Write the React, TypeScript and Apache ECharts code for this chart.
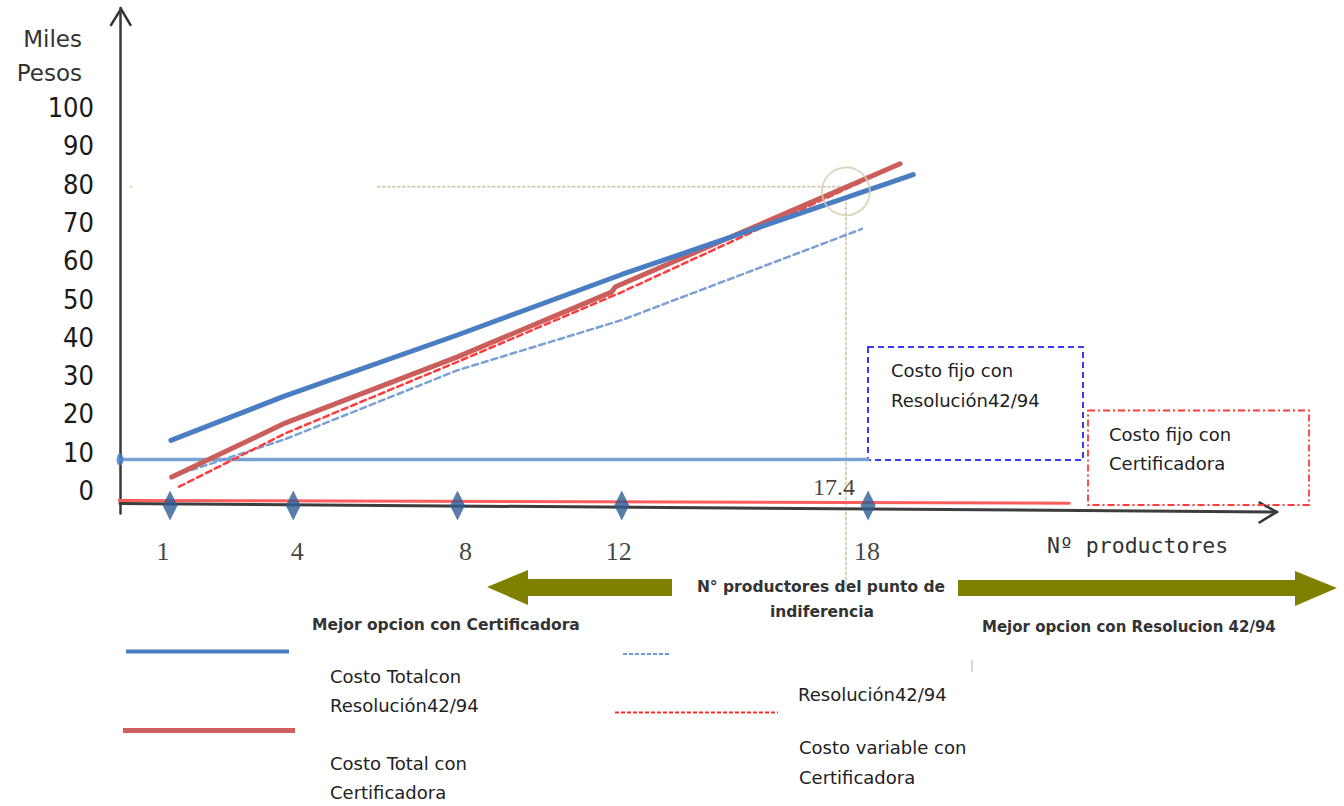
import React, { useEffect, useRef } from "react";
import * as echarts from "echarts";

// ---- Data (x = Nº productores, y = miles de pesos) ----
const yTickValues = [0, 10, 20, 30, 40, 50, 60, 70, 80, 90, 100];
const productoresMarcados = [1, 4, 8, 12, 18];

const costoTotalResX = [1.02, 3.8, 8, 12, 19.1];
const costoTotalResY = [13.1, 24.7, 40.6, 56.4, 82.5];

const costoTotalCertX = [1.04, 3.8, 8, 11.75, 11.85, 18.78];
const costoTotalCertY = [3.5, 17.6, 34.9, 51.8, 53.2, 85.3];

const costoVarCertX = [1.22, 3.8, 8, 12, 17.8];
const costoVarCertY = [1.0, 14.9, 33.6, 51.8, 80.4];

const costoVarResX = [1.05, 3.8, 8, 12, 17.85];
const costoVarResY = [3.7, 13.4, 31.4, 44.5, 68.3];

const costoFijoResX = [-0.22, 18.0];
const costoFijoResY = [8.1, 8.1];

const costoFijoCertX = [-0.34, 22.9];
const costoFijoCertY = [-2.6, -3.3];

const ejeProductoresX = [-0.22, 27.95];
const ejeProductoresY = [-3.4, -5.6];

const puntoIndiferencia = 17.4;
const guiaX = 17.46;
const guiaHorizX = [6.06, 17.46];
const guiaHorizY = 79.3;
const guiaVertY = [76.5, -26];
const circuloY = 78.1;
const nivelMarcas = -3.9;
const nivelEtiquetasX = -16;
const nivelEtiquetaIndif = 0.8;

const X_MIN = -0.22;
const X_MAX = 28;
const Y_MIN = -6;
const Y_MAX = 126;

const pares = (xs: number[], ys: number[]) => xs.map((x, i) => [x, ys[i]]);

const SANS = "'DejaVu Sans', 'Noto Sans', sans-serif";
const NARROW = "'Liberation Sans Narrow', 'DejaVu Sans Condensed', 'DejaVu Sans', sans-serif";
const SERIF = "'Liberation Serif', 'DejaVu Serif', serif";

function linea(name: string, xs: number[], ys: number[], color: string, width: number, type: any, z: number) {
  return {
    type: "line",
    name,
    data: pares(xs, ys),
    symbol: "none",
    showSymbol: false,
    clip: false,
    silent: true,
    z,
    lineStyle: { color, width, type, cap: "round" },
  };
}

function texto(text: string, x: number, y: number, size: number, family: string, opts: any = {}) {
  return {
    type: "text",
    silent: true,
    style: {
      text,
      x,
      y,
      fill: opts.fill || "#222",
      font: `${opts.weight || "normal"} ${size}px ${family}`,
      textAlign: opts.align || "left",
      textVerticalAlign: "middle",
    },
  };
}

export default function App() {
  const ref = useRef<HTMLDivElement>(null);

  useEffect(() => {
    if (!ref.current) return;
    const chart = echarts.init(ref.current, undefined, { renderer: "svg" });

    const etiquetaDesp = [-7, 4, 8, -3, -1];

    const option: any = {
      animation: false,
      backgroundColor: "#ffffff",
      grid: {
        left: 120,
        right: 65.3,
        top: 7.9,
        bottom: 292.5,
        containLabel: false,
        outerBoundsMode: "none",
      },
      xAxis: { type: "value", min: X_MIN, max: X_MAX, show: false },
      yAxis: {
        type: "value",
        min: Y_MIN,
        max: Y_MAX,
        splitLine: { show: false },
        axisTick: { show: false },
        axisLine: { show: true, onZero: false, lineStyle: { color: "#3a3a3a", width: 2.5 } },
        axisLabel: {
          customValues: yTickValues,
          margin: 26,
          fontSize: 27,
          fontFamily: NARROW,
          color: "#1a1a1a",
        },
      },
      series: [
        linea("Eje", ejeProductoresX, ejeProductoresY, "#3d3d3d", 3, "solid", 2),
        linea("Costo fijo con Certificadora", costoFijoCertX, costoFijoCertY, "#ff5c5c", 3, "solid", 3),
        linea("Costo fijo con Resolución 42/94", costoFijoResX, costoFijoResY, "#7aa2d4", 3.5, "solid", 3),
        linea("Costo variable con Resolución 42/94", costoVarResX, costoVarResY, "#7aa0d6", 2.5, [6, 4], 4),
        linea("Costo variable con Certificadora", costoVarCertX, costoVarCertY, "#ff3c3c", 2.5, [6, 4], 4),
        linea("Costo Total con Certificadora", costoTotalCertX, costoTotalCertY, "#cb5e5b", 5, "solid", 5),
        linea("Costo Total con Resolución 42/94", costoTotalResX, costoTotalResY, "#4a7ec3", 5, "solid", 6),
        linea("guia-h", guiaHorizX, [guiaHorizY, guiaHorizY], "#d8d0b6", 2, [2, 3], 1),
        linea("guia-v", [guiaX, guiaX], guiaVertY, "#d8d0b6", 2, [2, 3], 1),
        {
          type: "scatter",
          name: "guia-punto",
          data: [[0.05, guiaHorizY]],
          symbol: "rect",
          symbolSize: [3, 2],
          itemStyle: { color: "#d8d0b6" },
          silent: true,
          z: 1,
        },
        {
          type: "scatter",
          name: "origen-fijo",
          data: [[costoFijoResX[0], costoFijoResY[0]]],
          symbol: "circle",
          symbolSize: [7, 12],
          itemStyle: { color: "#4a7ec3" },
          clip: false,
          silent: true,
          z: 7,
        },
        {
          type: "scatter",
          name: "indiferencia",
          data: [[guiaX, circuloY]],
          symbol: "circle",
          symbolSize: 48,
          itemStyle: { color: "rgba(0,0,0,0)", borderColor: "#d6ceb0", borderWidth: 2 },
          silent: true,
          z: 8,
        },
        {
          type: "scatter",
          name: "marcas",
          data: productoresMarcados.map((p) => [p, nivelMarcas]),
          symbol: "diamond",
          symbolSize: [15, 30],
          itemStyle: { color: "#2f5d94" },
          clip: false,
          silent: true,
          z: 9,
        },
        {
          type: "scatter",
          name: "etiquetas-x",
          data: productoresMarcados.map((p) => [p, nivelEtiquetasX]),
          symbolSize: 0,
          clip: false,
          silent: true,
          label: {
            show: true,
            position: "inside",
            formatter: (pr: any) => String(pr.value[0]),
            fontFamily: SERIF,
            fontSize: 26,
            color: "#111",
          },
          labelLayout: (pr: any) => ({ dx: etiquetaDesp[pr.dataIndex] || 0 }),
          z: 9,
        },
        {
          type: "scatter",
          name: "etiqueta-indif",
          data: [[guiaX, nivelEtiquetaIndif]],
          symbolSize: 0,
          silent: true,
          label: {
            show: true,
            position: "inside",
            offset: [-12, 0],
            formatter: () => String(puntoIndiferencia),
            fontFamily: SERIF,
            fontSize: 24,
            color: "#111",
          },
          z: 9,
        },
      ],
    };

    chart.setOption(option);

    const top = chart.convertToPixel({ gridIndex: 0 }, [X_MIN, Y_MAX]) as number[];
    const right = chart.convertToPixel(
      { gridIndex: 0 },
      [ejeProductoresX[1], ejeProductoresY[1]]
    ) as number[];

    const graphic: any[] = [
      // axis arrowheads
      {
        type: "polyline",
        silent: true,
        shape: { points: [[top[0] - 9.5, top[1] + 18], [top[0] + 1, top[1] + 1], [top[0] + 11, top[1] + 18]] },
        style: { stroke: "#333", lineWidth: 2.5, fill: "none" },
      },
      {
        type: "polyline",
        silent: true,
        shape: { points: [[right[0] - 18, right[1] - 10], [right[0], right[1]], [right[0] - 18, right[1] + 11]] },
        style: { stroke: "#333", lineWidth: 2.5, fill: "none" },
      },
      // Miles Pesos
      texto("Miles", 82, 39, 23, SANS, { align: "right", fill: "#333" }),
      texto("Pesos", 82, 73, 23, SANS, { align: "right", fill: "#333" }),
      // x axis title
      texto("Nº productores", 1047, 545, 21.5, "'DejaVu Sans Mono', monospace", { fill: "#333" }),
      // annotation boxes
      {
        type: "rect",
        silent: true,
        shape: { x: 868, y: 347, width: 215, height: 113 },
        style: { fill: "rgba(0,0,0,0)", stroke: "#3a3aff", lineWidth: 2, lineDash: [6, 4] },
      },
      texto("Costo fijo con", 891, 370, 18, SANS),
      texto("Resolución42/94", 891, 400, 18, SANS),
      {
        type: "rect",
        silent: true,
        shape: { x: 1088, y: 410.5, width: 221, height: 94.5 },
        style: { fill: "rgba(0,0,0,0)", stroke: "#ff3b3b", lineWidth: 1.8, lineDash: [7, 3, 2, 3] },
      },
      texto("Costo fijo con", 1109, 434, 18, SANS),
      texto("Certificadora", 1109, 463, 18, SANS),
      // green arrows
      {
        type: "polygon",
        silent: true,
        shape: {
          points: [
            [487, 587], [528, 570], [528, 579], [672, 579], [672, 596], [528, 596], [528, 605],
          ],
        },
        style: { fill: "#808000" },
      },
      {
        type: "polygon",
        silent: true,
        shape: {
          points: [
            [958, 580], [1295, 580], [1295, 571], [1337, 588], [1295, 606], [1295, 596], [958, 596],
          ],
        },
        style: { fill: "#808000" },
      },
      texto("N° productores del punto de", 821, 587, 15.5, SANS, { align: "center", weight: "bold", fill: "#333" }),
      texto("indiferencia", 822, 612, 15.5, SANS, { align: "center", weight: "bold", fill: "#333" }),
      texto("Mejor opcion con Certificadora", 312, 625, 15.5, SANS, { weight: "bold", fill: "#333" }),
      texto("Mejor opcion con Resolucion 42/94", 982, 627, 15, SANS, { weight: "bold", fill: "#333" }),
      // legend
      {
        type: "line",
        silent: true,
        shape: { x1: 126, y1: 651.5, x2: 289, y2: 651.5 },
        style: { stroke: "#4a7ec3", lineWidth: 4 },
      },
      {
        type: "line",
        silent: true,
        shape: { x1: 123, y1: 730.5, x2: 295, y2: 730.5 },
        style: { stroke: "#d0605d", lineWidth: 5 },
      },
      {
        type: "line",
        silent: true,
        shape: { x1: 623, y1: 654, x2: 670, y2: 654 },
        style: { stroke: "#6f9bd6", lineWidth: 2, lineDash: [4, 2] },
      },
      {
        type: "line",
        silent: true,
        shape: { x1: 615, y1: 712.5, x2: 778, y2: 712.5 },
        style: { stroke: "#ff2a2a", lineWidth: 2, lineDash: [4, 2] },
      },
      {
        type: "line",
        silent: true,
        shape: { x1: 972, y1: 660, x2: 972, y2: 672 },
        style: { stroke: "#cccccc", lineWidth: 1.5 },
      },
      texto("Costo Totalcon", 330, 676, 18, SANS),
      texto("Resolución42/94", 330, 705, 18, SANS),
      texto("Costo Total con", 330, 763, 18, SANS),
      texto("Certificadora", 330, 792, 18, SANS),
      texto("Resolución42/94", 798, 694, 18, SANS),
      texto("Costo variable con", 799, 747, 18, SANS),
      texto("Certificadora", 799, 777, 18, SANS),
    ];

    chart.setOption({ graphic });

    return () => {
      chart.dispose();
    };
  }, []);

  return (
    <div
      ref={ref}
      style={{ position: "fixed", left: 0, top: 0, width: "1344px", height: "806px", background: "#fff" }}
    />
  );
}
